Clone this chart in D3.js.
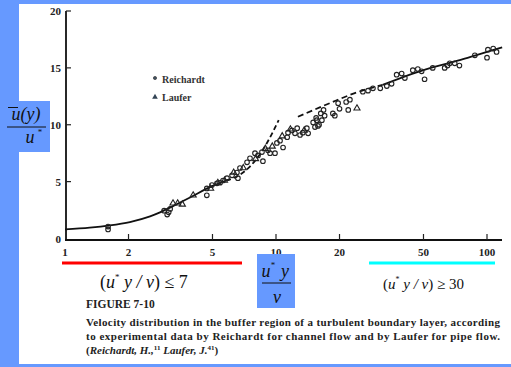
<!DOCTYPE html>
<html>
<head>
<meta charset="utf-8">
<script src="https://cdn.jsdelivr.net/npm/d3@7"></script>
<style>
  body { margin: 0; background: #6699ff; }
  svg { display: block; }
</style>
</head>
<body>
<svg width="511" height="367"></svg>
<script>
// tick values
const xTicks = [1, 2, 5, 10, 20, 50, 100];
const yTicks = [0, 5, 10, 15, 20];

// Reichardt, channel flow (open circles)
const reichardt = [
  [1.6,0.8],[1.6,1.05],[2.95,2.45],[3.05,2.1],[3.1,2.3],[3.15,2.6],[4.7,3.8],[4.7,4.4],
  [4.97,4.7],[5.25,4.85],[5.43,4.9],[5.61,5.1],[5.86,5.3],[6.19,5.55],[6.53,5.8],[6.6,5.3],
  [6.75,6.2],[7.29,6.7],[7.53,7.05],[7.95,7.5],[8.22,7.3],[8.58,7.6],[8.67,6.8],[9.16,7.75],
  [9.37,7.5],[9.89,7.5],[10.1,8.4],[10.45,8.6],[10.8,8.0],[11.3,8.9],[11.4,9.3],[11.9,9.5],
  [12.3,9.25],[12.6,9.7],[13.0,9.1],[13.4,9.3],[14.0,9.7],[14.2,9.25],[15.3,9.8],[15.6,10.4],
  [15.0,10.2],[15.5,10.6],[16.0,10.0],[16.3,11.0],[16.5,10.4],[17.0,10.8],[15.8,9.9],[16.8,11.3],
  [18.6,11.0],[19,10.8],[19.7,11.9],[20,11.4],[21.5,12.0],[22,11.3],[22.4,12.2],
  [25.8,12.9],[27.3,13.0],[28.8,13.2],[31.2,13.2],[33.5,13.4],[35.3,13.6],[37.3,14.4],
  [39.4,14.5],[40.8,14.1],[44.5,14.8],[47,14.9],[49,14.7],[50.6,14.0],[55.3,15.0],[63,15.0],
  [65,15.2],[66.6,15.4],[70.3,15.4],[74,15.2],[87.6,16.1],[100,15.9],[101,16.6],[107,16.7],[111,16.4]
];

// Laufer, pipe flow (triangles)
const laufer = [
  [3.25,3.1],[3.42,3.1],[3.6,3.0],[4.05,3.8],[4.9,4.4],[5.3,4.9],[5.7,5.1],[6.3,5.8],
  [7.0,6.2],[8.0,7.0],[8.9,7.9],[9.6,8.1],[10.7,9.0],[11.7,9.6],[13.6,9.5],[24.2,11.45]
];

// curves
const sublayerSolid = [[1,0.8],[1.31,0.95],[1.63,1.15],[2.03,1.45],[2.53,1.95],[2.82,2.3],[3.25,2.85],[3.91,3.6],[4.97,4.6],[5.8,5.1]];
const sublayerDashed = [[5.8,5.1],[6.6,5.5],[7.5,6.3],[8.8,8.0],[10.3,10.4]];
const logDashed = [[12.7,10.7],[18,11.9],[24.2,12.85],[32,13.5]];
const logSolid = [[32,13.5],[50,14.8],[75,15.7],[100,16.4],[118,16.8]];

const svg = d3.select('svg');
const serif = '"Liberation Serif", "DejaVu Serif", serif';

// white page
svg.append('rect').attr('x', 19).attr('y', 4).attr('width', 492).attr('height', 360).attr('fill', '#fff');

const x = d3.scaleLog().domain([1, 100]).range([65, 487]);
const y = d3.scaleLinear().domain([0, 20]).range([238.5, 11]);

const g = svg.append('g');

// axes
g.append('line').attr('x1', 66).attr('x2', 66).attr('y1', 11).attr('y2', 240)
  .attr('stroke', '#111').attr('stroke-width', 1.8);
g.append('line').attr('x1', 65).attr('x2', 502).attr('y1', 240).attr('y2', 240)
  .attr('stroke', '#111').attr('stroke-width', 1.8);

yTicks.forEach(v => {
  if (v > 0) {
    g.append('line').attr('x1', 66).attr('x2', 71).attr('y1', y(v)).attr('y2', y(v))
      .attr('stroke', '#222').attr('stroke-width', 1.2);
  }
  g.append('text').attr('x', 61).attr('y', y(v) + 4).attr('text-anchor', 'end')
    .attr('font-family', serif).attr('font-weight', 'bold').attr('font-size', 11)
    .attr('fill', '#222').text(v);
});

xTicks.forEach(v => {
  if (v > 1) {
    g.append('line').attr('x1', x(v)).attr('x2', x(v)).attr('y1', 240).attr('y2', 234)
      .attr('stroke', '#222').attr('stroke-width', 1.2);
  }
  g.append('text').attr('x', x(v)).attr('y', 256).attr('text-anchor', 'middle')
    .attr('font-family', serif).attr('font-weight', 'bold').attr('font-size', 11)
    .attr('fill', '#222').text(v);
});

// curves
const line = d3.line().x(d => x(d[0])).y(d => y(d[1])).curve(d3.curveMonotoneX);
[[sublayerSolid, null], [sublayerDashed, '5,3'], [logDashed, '6,3.5'], [logSolid, null]].forEach(([data, dash]) => {
  g.append('path').attr('d', line(data)).attr('fill', 'none')
    .attr('stroke', '#111').attr('stroke-width', 1.8)
    .attr('stroke-dasharray', dash);
});

// markers
g.selectAll('.r').data(reichardt).enter().append('circle')
  .attr('cx', d => x(d[0])).attr('cy', d => y(d[1])).attr('r', 2.3)
  .attr('fill', 'none').attr('stroke', '#222').attr('stroke-width', 1.1);

const tri = d3.symbol().type(d3.symbolTriangle).size(16);
g.selectAll('.l').data(laufer).enter().append('path')
  .attr('d', tri).attr('transform', d => `translate(${x(d[0])},${y(d[1])})`)
  .attr('fill', 'none').attr('stroke', '#222').attr('stroke-width', 1.1);

// legend
g.append('circle').attr('cx', 155).attr('cy', 78).attr('r', 1.6)
  .attr('fill', '#456').attr('stroke', '#222').attr('stroke-width', 0.6);
g.append('path').attr('d', d3.symbol().type(d3.symbolTriangle).size(14)).attr('transform', 'translate(155,97)')
  .attr('fill', '#345');
g.append('text').attr('x', 162).attr('y', 83).attr('font-family', serif).attr('font-weight', 'bold')
  .attr('font-size', 10).attr('fill', '#333').text('Reichardt');
g.append('text').attr('x', 162).attr('y', 101).attr('font-family', serif).attr('font-weight', 'bold')
  .attr('font-size', 10).attr('fill', '#333').text('Laufer');

// y label box
svg.append('rect').attr('x', 0).attr('y', 101).attr('width', 50).attr('height', 51).attr('fill', '#6699ff');
const yl = svg.append('g').attr('font-family', serif).attr('font-style', 'italic').attr('fill', '#111');
yl.append('text').attr('x', 26).attr('y', 120).attr('text-anchor', 'middle').attr('font-size', 18)
  .text('u(y)');
yl.append('line').attr('x1', 8).attr('x2', 18).attr('y1', 107.5).attr('y2', 107.5).attr('stroke', '#111').attr('stroke-width', 1);
yl.append('line').attr('x1', 7).attr('x2', 46).attr('y1', 127).attr('y2', 127).attr('stroke', '#111').attr('stroke-width', 1);
yl.append('text').attr('x', 30).attr('y', 143).attr('text-anchor', 'middle').attr('font-size', 18).text('u');
yl.append('text').attr('x', 40).attr('y', 135).attr('text-anchor', 'middle').attr('font-size', 9).attr('font-style', 'normal').text('*');

// x label box
svg.append('rect').attr('x', 257).attr('y', 254).attr('width', 38).attr('height', 54).attr('fill', '#6699ff');
const xl = svg.append('g').attr('font-family', serif).attr('font-style', 'italic').attr('fill', '#111');
xl.append('text').attr('x', 266).attr('y', 277).attr('text-anchor', 'middle').attr('font-size', 18).text('u');
xl.append('text').attr('x', 273).attr('y', 268).attr('text-anchor', 'middle').attr('font-size', 9).attr('font-style', 'normal').text('*');
xl.append('text').attr('x', 285).attr('y', 277).attr('text-anchor', 'middle').attr('font-size', 18).text('y');
xl.append('line').attr('x1', 262).attr('x2', 291).attr('y1', 283).attr('y2', 283).attr('stroke', '#111').attr('stroke-width', 1);
xl.append('text').attr('x', 277).attr('y', 303).attr('text-anchor', 'middle').attr('font-size', 18).text('ν');

// region markers
svg.append('line').attr('x1', 62).attr('x2', 242).attr('y1', 263).attr('y2', 263).attr('stroke', '#ff0000').attr('stroke-width', 3);
svg.append('line').attr('x1', 369).attr('x2', 495).attr('y1', 263).attr('y2', 263).attr('stroke', '#00ffff').attr('stroke-width', 3);

const r1 = svg.append('text').attr('x', 100).attr('y', 288).attr('font-family', serif).attr('font-size', 18).attr('fill', '#111');
r1.append('tspan').text('(');
r1.append('tspan').attr('font-style', 'italic').text('u');
r1.append('tspan').attr('font-size', 9).attr('dy', -8).text('*');
r1.append('tspan').attr('font-style', 'italic').attr('dy', 8).text(' y / ν');
r1.append('tspan').text(') ≤ 7');

const r2 = svg.append('text').attr('x', 383).attr('y', 289).attr('font-family', serif).attr('font-size', 15).attr('fill', '#111');
r2.append('tspan').text('(');
r2.append('tspan').attr('font-style', 'italic').text('u');
r2.append('tspan').attr('font-size', 8).attr('dy', -7).text('*');
r2.append('tspan').attr('font-style', 'italic').attr('dy', 7).text(' y / ν');
r2.append('tspan').text(') ≥ 30');

// caption
const cap = svg.append('g').attr('font-family', serif).attr('fill', '#222');
cap.append('text').attr('x', 86).attr('y', 308).attr('font-size', 11.5).attr('font-weight', 'bold').text('FIGURE 7-10');
cap.append('text').attr('x', 86).attr('y', 326).attr('font-size', 11).attr('font-weight', 'bold')
  .attr('textLength', 414).attr('lengthAdjust', 'spacing')
  .text('Velocity distribution in the buffer region of a turbulent boundary layer, according');
cap.append('text').attr('x', 86).attr('y', 340).attr('font-size', 11).attr('font-weight', 'bold')
  .attr('textLength', 414).attr('lengthAdjust', 'spacing')
  .text('to experimental data by Reichardt for channel flow and by Laufer for pipe flow.');
const c3 = cap.append('text').attr('x', 86).attr('y', 354).attr('font-size', 11).attr('font-weight', 'bold');
c3.append('tspan').text('(');
c3.append('tspan').attr('font-style', 'italic').text('Reichardt, H.,');
c3.append('tspan').attr('font-size', 7).attr('dy', -4).text('11');
c3.append('tspan').attr('font-style', 'italic').attr('dy', 4).text(' Laufer, J.');
c3.append('tspan').attr('font-size', 7).attr('dy', -4).text('41');
c3.append('tspan').attr('dy', 4).text(')');
</script>
</body>
</html>
